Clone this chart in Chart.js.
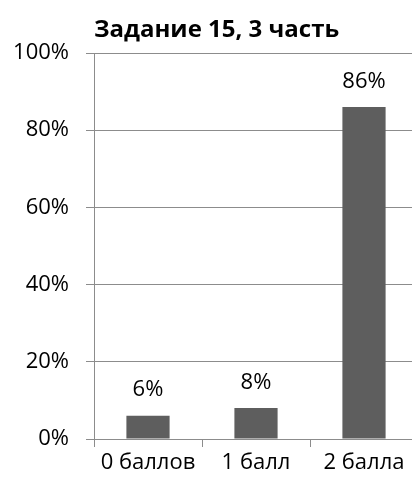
<!DOCTYPE html>
<html>
<head>
<meta charset="utf-8">
<script src="https://cdn.jsdelivr.net/npm/chart.js@4.4.1/dist/chart.umd.min.js"></script>
<style>
html,body{margin:0;padding:0;background:#fff;overflow:hidden;width:412px;height:485px;}
#wrap{position:relative;width:418px;height:485px;}
</style>
</head>
<body>
<div id="wrap"><canvas id="c" width="418" height="485"></canvas></div>
<script>
const categories = ["0 баллов", "1 балл", "2 балла"];
const values = [6, 8, 86];
const yTicks = [0, 20, 40, 60, 80, 100];
const titleText = "Задание 15, 3 часть";

const FONT = "'Open Sans', sans-serif";
const GRID = "#8c8c8c";

const dataLabels = {
  id: 'dataLabels',
  afterDatasetsDraw(chart) {
    const ctx = chart.ctx;
    const meta = chart.getDatasetMeta(0);
    ctx.save();
    ctx.font = "22px " + FONT;
    ctx.fillStyle = "#000";
    ctx.textAlign = "center";
    ctx.textBaseline = "alphabetic";
    meta.data.forEach((bar, i) => {
      ctx.fillText(values[i] + "%", bar.x, bar.y - 19.5);
    });
    ctx.restore();
  }
};

new Chart(document.getElementById('c'), {
  type: 'bar',
  data: {
    labels: categories,
    datasets: [{
      data: values,
      backgroundColor: "#5e5e5e",
      borderWidth: 0,
      categoryPercentage: 1.0,
      barPercentage: 0.4
    }]
  },
  options: {
    responsive: false,
    devicePixelRatio: 1,
    animation: false,
    layout: { padding: { left: 0, right: 0, top: 0, bottom: 0 } },
    plugins: {
      legend: { display: false },
      tooltip: { enabled: false },
      title: {
        display: true,
        fullSize: false,
        text: titleText,
        align: 'start',
        color: "#000",
        font: { family: FONT, size: 24, weight: 'bold' },
        padding: { top: 16, bottom: 8.2 }
      }
    },
    scales: {
      x: {
        grid: { offset: true, drawOnChartArea: false, tickLength: 8, color: GRID },
        border: { color: GRID },
        ticks: { color: "#000", font: { family: FONT, size: 22 }, padding: 3, maxRotation: 0 },
        afterFit(scale) { scale.height = 46; }
      },
      y: {
        min: 0, max: 100,
        afterBuildTicks(scale) { scale.ticks = yTicks.map(v => ({ value: v })); },
        grid: { tickLength: 8, color: GRID },
        border: { color: GRID },
        ticks: { color: "#000", font: { family: FONT, size: 22 }, padding: 17, callback: v => v + "%" },
        afterFit(scale) { scale.width = 94; }
      }
    }
  },
  plugins: [dataLabels]
});
</script>
</body>
</html>
